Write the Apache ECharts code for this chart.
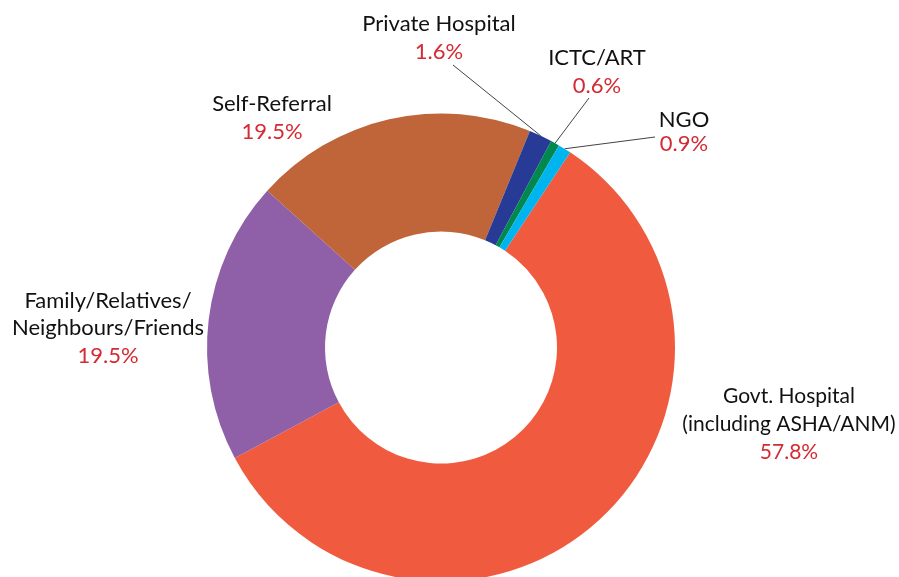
<!DOCTYPE html>
<html>
<head>
<meta charset="utf-8">
<script src="https://cdn.jsdelivr.net/npm/echarts@6/dist/echarts.min.js"></script>
<style>
  html, body { margin: 0; padding: 0; background: #fff; }
  #chart { width: 899px; height: 577px; }
</style>
</head>
<body>
<div id="chart"></div>
<script>
// categories and shares (%), clockwise from the NGO/Govt edge
const categories = [
    'Govt. Hospital\n(including ASHA/ANM)',
    'Family/Relatives/\nNeighbours/Friends',
    'Self-Referral',
    'Private Hospital',
    'ICTC/ART',
    'NGO'
];
const shares = [57.8, 19.5, 19.5, 1.6, 0.6, 0.9];
const colors = ['#F05B40', '#8F5FA8', '#C0653A', '#273A96', '#00884F', '#00B5EF'];

// label placement: centre x, top y, line height, font size, and end of the leader line (small slices only)
const labelPlaces = [
    { x: 789, y: 382, lh: 28, fs: 21 },
    { x: 108, y: 287, lh: 27.5, fs: 22 },
    { x: 272, y: 90, lh: 28, fs: 22 },
    { x: 439, y: 10, lh: 28, fs: 22, end: [453, 65] },
    { x: 597, y: 44, lh: 28, fs: 22, end: [589, 98] },
    { x: 684, y: 108, lh: 24, fs: 22, end: [655, 137] }
];

const chart = echarts.init(document.getElementById('chart'), null, { renderer: 'canvas' });

const seriesData = categories.map((name, i) => ({
    name: name,
    value: shares[i],
    itemStyle: { color: colors[i] },
    labelLine: { show: !!labelPlaces[i].end },
    label: {
        rich: {
            n: { fontSize: labelPlaces[i].fs, color: '#111', lineHeight: labelPlaces[i].lh, fontFamily: 'Lato' },
            p: { fontSize: labelPlaces[i].fs, color: '#D42A33', lineHeight: labelPlaces[i].lh, fontFamily: 'Lato' }
        }
    }
}));

const option = {
    backgroundColor: '#fff',
    animation: false,
    series: [{
        type: 'pie',
        center: [441, 347.5],
        radius: [116, 234],
        startAngle: 56.5,
        clockwise: true,
        avoidLabelOverlap: false,
        emphasis: { disabled: true },
        itemStyle: { borderWidth: 0 },
        label: {
            show: true,
            position: 'outside',
            formatter: p => p.name.split('\n').map(s => '{n|' + s + '}').join('\n') + '\n{p|' + p.value + '%}',
            align: 'center'
        },
        labelLine: {
            length: 10,
            length2: 10,
            lineStyle: { color: '#444', width: 1 }
        },
        labelLayout: function (params) {
            const place = labelPlaces[params.dataIndex];
            const out = { x: place.x, y: place.y, align: 'center', verticalAlign: 'top' };
            if (place.end && params.labelLinePoints) {
                const start = params.labelLinePoints[0];
                out.labelLinePoints = [start, place.end, place.end];
            }
            return out;
        },
        data: seriesData
    }]
};

chart.setOption(option);
</script>
</body>
</html>
